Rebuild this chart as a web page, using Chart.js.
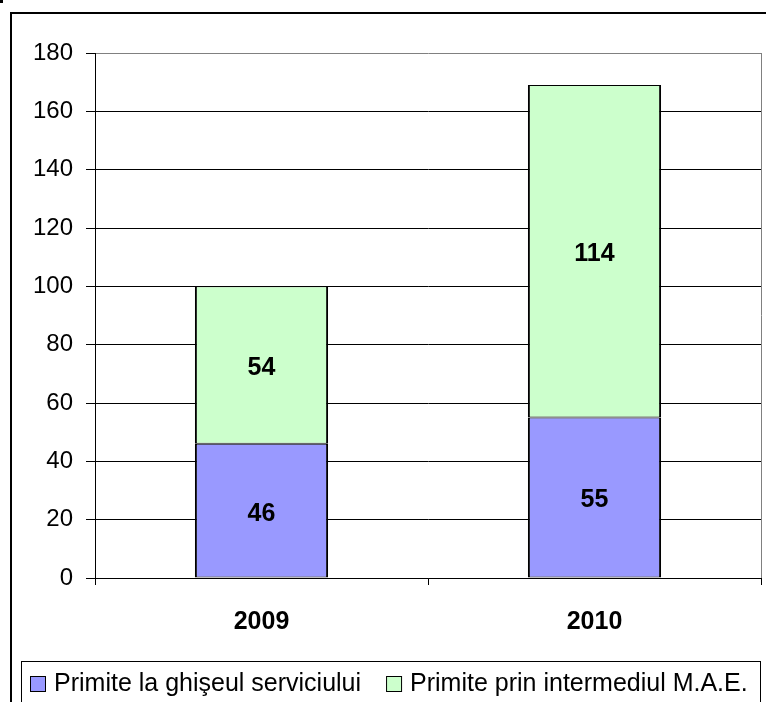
<!DOCTYPE html>
<html><head><meta charset="utf-8">
<script src="https://cdn.jsdelivr.net/npm/chart.js@4/dist/chart.umd.min.js"></script>
<style>html,body{margin:0;padding:0;background:#fff}canvas{display:block}</style>
</head><body>
<canvas id="c" width="766" height="702"></canvas>
<script>
const categories = ['2009', '2010'];
const seriesNames = ['Primite la ghişeul serviciului', 'Primite prin intermediul M.A.E.'];
const ghiseuValues = [46, 55];
const maeValues = [54, 114];
const yMin = 0, yMax = 180, yStep = 20;
const seriesColors = ['#9999FF', '#CCFFCC'];

const FONT = '"Liberation Sans", Arial, sans-serif';

const framePlugin = {
  id: 'frame',
  beforeDraw(chart) {
    const ctx = chart.ctx;
    ctx.save();
    ctx.fillStyle = '#fff';
    ctx.fillRect(0, 0, chart.width, chart.height);
    ctx.restore();
  },
  afterDraw(chart) {
    const ctx = chart.ctx, a = chart.chartArea;
    ctx.save();
    // outer frame
    ctx.fillStyle = '#000';
    ctx.fillRect(10, 12, 760, 2);
    ctx.fillRect(10, 12, 2, 700);
    ctx.fillRect(0, 0, 3, 3);
    // plot area right border
    ctx.strokeStyle = '#808080';
    ctx.lineWidth = 1;
    ctx.beginPath();
    ctx.moveTo(Math.round(a.right) + 0.5, Math.round(a.top));
    ctx.lineTo(Math.round(a.right) + 0.5, Math.round(a.bottom));
    ctx.stroke();
    // legend box
    ctx.strokeStyle = '#000';
    ctx.strokeRect(21.5, 661.5, 739, 100);
    // legend items
    ctx.font = '25px ' + FONT;
    ctx.textBaseline = 'middle';
    ctx.textAlign = 'left';
    let x = 30;
    const by = 676, bs = 16, ty = 684;
    chart.data.datasets.forEach((ds) => {
      ctx.fillStyle = ds.backgroundColor;
      ctx.fillRect(x, by, bs, bs);
      ctx.strokeStyle = '#000';
      ctx.strokeRect(x + 0.5, by + 0.5, bs - 1, bs - 1);
      ctx.fillStyle = '#000';
      const tx = x + bs + 8;
      ctx.fillText(ds.label, tx, ty);
      x = tx + ctx.measureText(ds.label).width + 25;
    });
    ctx.restore();
  },
  afterDatasetsDraw(chart) {
    const ctx = chart.ctx;
    ctx.save();
    ctx.font = 'bold 25px ' + FONT;
    ctx.fillStyle = '#000';
    ctx.textAlign = 'center';
    ctx.textBaseline = 'middle';
    chart.data.datasets.forEach((ds, i) => {
      chart.getDatasetMeta(i).data.forEach((bar, j) => {
        const p = bar.getProps(['x', 'y', 'base'], true);
        ctx.fillText(String(ds.data[j]), p.x, (p.y + p.base) / 2 + 3);
      });
    });
    ctx.restore();
  }
};

new Chart(document.getElementById('c'), {
  type: 'bar',
  data: {
    labels: categories,
    datasets: [
      { label: seriesNames[0], data: ghiseuValues, backgroundColor: seriesColors[0] },
      { label: seriesNames[1], data: maeValues, backgroundColor: seriesColors[1] }
    ]
  },
  options: {
    responsive: false,
    animation: false,
    events: [],
    layout: { padding: { top: 53, right: 5, bottom: 40, left: 0 } },
    datasets: {
      bar: {
        categoryPercentage: 1,
        barPercentage: 0.4,
        borderColor: '#000',
        borderWidth: { left: 2, right: 2, top: 1, bottom: 1 },
        borderSkipped: false
      }
    },
    plugins: { legend: { display: false }, tooltip: { enabled: false } },
    scales: {
      x: {
        stacked: true,
        grid: { drawOnChartArea: false, drawTicks: true, tickLength: 7, tickColor: '#000', offset: true },
        border: { color: '#000', width: 1 },
        ticks: { color: '#000', font: { family: FONT, size: 25, weight: 'bold' }, padding: 22 },
        afterFit(s) { s.height = 84; }
      },
      y: {
        stacked: true,
        min: yMin, max: yMax,
        grid: {
          color: (c) => (c.tick && c.tick.value === yMax) ? '#808080' : '#000',
          tickColor: '#000',
          tickLength: 9,
          lineWidth: 1
        },
        border: { color: '#000', width: 1 },
        ticks: { stepSize: yStep, color: '#000', font: { family: FONT, size: 24 }, padding: 13 },
        afterFit(s) { s.width = 95; }
      }
    }
  },
  plugins: [framePlugin]
});
</script>
</body></html>
